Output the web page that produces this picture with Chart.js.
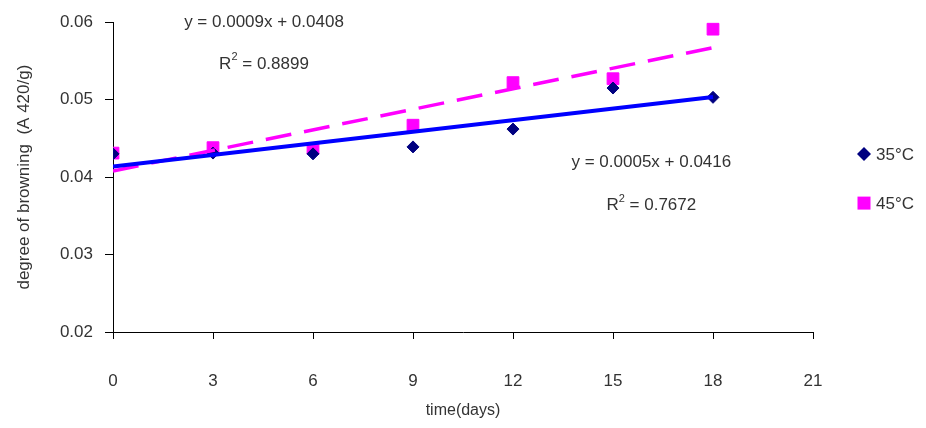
<!DOCTYPE html>
<html>
<head>
<meta charset="utf-8">
<script src="https://cdn.jsdelivr.net/npm/chart.js@4.4.0/dist/chart.umd.min.js"></script>
<style>
  html, body { margin: 0; padding: 0; background: #fff; }
  #wrap { width: 926px; height: 428px; }
</style>
</head>
<body>
<div id="wrap"><canvas id="chart" width="926" height="428"></canvas></div>
<script>
// values
const days = [0, 3, 6, 9, 12, 15, 18];
const browning35 = [0.0430, 0.0431, 0.0430, 0.0439, 0.0462, 0.0515, 0.0503];
const browning45 = [0.0431, 0.0438, 0.0437, 0.0467, 0.0522, 0.0527, 0.0591];
const xTicks = [0, 3, 6, 9, 12, 15, 18, 21];
const yTicks = [0.02, 0.03, 0.04, 0.05, 0.06];
const seriesNames = ['35°C', '45°C'];
const equations = ['y = 0.0005x + 0.0416', 'y = 0.0009x + 0.0408'];
const rSquared = ['0.7672', '0.8899'];

// where the trendline labels sit, in data units
const labelSpots = [
  { eq: { x: 16.15, y: 0.0419 }, r2: { x: 16.15, y: 0.0363 } },
  { eq: { x: 4.53, y: 0.0600 }, r2: { x: 4.53, y: 0.0546 } }
];

const FONT = '"Liberation Sans", Arial, Helvetica, sans-serif';
const textColor = '#333333';

// least squares line through the points, from first to last day
function trend(xs, ys) {
  const n = xs.length;
  const mx = xs.reduce((a, b) => a + b, 0) / n;
  const my = ys.reduce((a, b) => a + b, 0) / n;
  let sxy = 0, sxx = 0;
  for (let i = 0; i < n; i++) {
    sxy += (xs[i] - mx) * (ys[i] - my);
    sxx += (xs[i] - mx) * (xs[i] - mx);
  }
  const b = sxy / sxx;
  const a = my - b * mx;
  return [xs[0], xs[n - 1]].map(x => ({ x: x, y: a + b * x }));
}

const points = ys => days.map((d, i) => ({ x: d, y: ys[i] }));

// text for the trendlines, anchored to the scales
const trendLabels = {
  id: 'trendLabels',
  afterDatasetsDraw(chart) {
    const { ctx, scales: { x, y } } = chart;
    ctx.save();
    ctx.fillStyle = textColor;
    ctx.textBaseline = 'middle';
    labelSpots.forEach((spot, i) => {
      ctx.font = '17px ' + FONT;
      ctx.textAlign = 'center';
      ctx.fillText(equations[i], x.getPixelForValue(spot.eq.x), y.getPixelForValue(spot.eq.y));

      const cx = x.getPixelForValue(spot.r2.x);
      const cy = y.getPixelForValue(spot.r2.y);
      const rest = ' = ' + rSquared[i];
      ctx.textAlign = 'left';
      const wR = ctx.measureText('R').width;
      const wRest = ctx.measureText(rest).width;
      ctx.font = '11px ' + FONT;
      const w2 = ctx.measureText('2').width;
      let left = cx - (wR + w2 + wRest) / 2;
      ctx.font = '17px ' + FONT;
      ctx.fillText('R', left, cy);
      ctx.font = '11px ' + FONT;
      ctx.fillText('2', left + wR, cy - 7);
      ctx.font = '17px ' + FONT;
      ctx.fillText(rest, left + wR + w2, cy);
    });
    ctx.restore();
  }
};

// legend to the right of the plot, for the two marker series
const sideLegend = {
  id: 'sideLegend',
  afterDraw(chart) {
    const { ctx, chartArea } = chart;
    const midY = (chartArea.top + chartArea.bottom) / 2;
    ctx.save();
    ctx.font = '17px ' + FONT;
    ctx.textBaseline = 'middle';
    ctx.textAlign = 'left';
    chart.data.datasets.filter(ds => !ds.showLine).forEach((ds, i) => {
      const cx = chartArea.right + 51;
      const cy = midY - 23 + i * 49;
      ctx.fillStyle = ds.backgroundColor;
      ctx.beginPath();
      if (ds.pointStyle === 'rectRot') {
        ctx.moveTo(cx, cy - 7);
        ctx.lineTo(cx + 7, cy);
        ctx.lineTo(cx, cy + 7);
        ctx.lineTo(cx - 7, cy);
        ctx.closePath();
        ctx.fill();
      } else {
        ctx.fillRect(cx - 6.5, cy - 6.5, 13, 13);
      }
      ctx.fillStyle = textColor;
      ctx.fillText(ds.label, cx + 12, cy + 1);
    });
    ctx.restore();
  }
};

new Chart(document.getElementById('chart'), {
  type: 'scatter',
  data: {
    datasets: [
      {
        label: seriesNames[0],
        data: points(browning35),
        pointStyle: 'rectRot',
        pointRadius: 6,
        pointHoverRadius: 6,
        backgroundColor: '#000080',
        borderColor: '#000080',
        borderWidth: 1,
        order: 1
      },
      {
        label: seriesNames[1],
        data: points(browning45),
        pointStyle: 'rect',
        pointRadius: 8.3,
        pointHoverRadius: 8.3,
        backgroundColor: '#ff00ff',
        borderColor: '#ff00ff',
        borderWidth: 1,
        order: 1
      },
      {
        label: 'Linear (35°C)',
        data: trend(days, browning35),
        showLine: true,
        borderColor: '#0000ff',
        borderWidth: 4,
        pointRadius: 0,
        order: 0
      },
      {
        label: 'Linear (45°C)',
        data: trend(days, browning45),
        showLine: true,
        borderColor: '#ff00ff',
        borderWidth: 3.5,
        borderDash: [26, 13],
        pointRadius: 0,
        order: 0
      }
    ]
  },
  options: {
    responsive: false,
    animation: false,
    layout: { padding: { top: 20, right: 113, bottom: 0, left: 0 } },
    plugins: {
      legend: { display: false },
      tooltip: { enabled: false }
    },
    scales: {
      x: {
        type: 'linear',
        min: 0,
        max: 21,
        afterBuildTicks: s => { s.ticks = xTicks.map(v => ({ value: v })); },
        afterFit: s => { s.height = 96; },
        ticks: {
          padding: 32,
          color: textColor,
          font: { family: FONT, size: 17 },
          callback: v => String(v)
        },
        grid: { drawOnChartArea: false, tickLength: 7, color: '#000' },
        border: { color: '#000', width: 1 },
        title: {
          display: true,
          text: 'time(days)',
          color: textColor,
          font: { family: FONT, size: 16 },
          padding: { top: 0, bottom: 8 }
        }
      },
      y: {
        type: 'linear',
        min: 0.02,
        max: 0.06,
        afterBuildTicks: s => { s.ticks = yTicks.map(v => ({ value: v })); },
        afterFit: s => { s.width = 113; },
        ticks: {
          padding: 12,
          color: textColor,
          font: { family: FONT, size: 17 },
          callback: v => v.toFixed(2)
        },
        grid: { drawOnChartArea: false, tickLength: 8, color: '#000' },
        border: { color: '#000', width: 1 },
        title: {
          display: true,
          text: 'degree of browning  (A 420/g)',
          color: textColor,
          font: { family: FONT, size: 17 },
          padding: { top: 14, bottom: 0 }
        }
      }
    }
  },
  plugins: [trendLabels, sideLegend]
});
</script>
</body>
</html>
